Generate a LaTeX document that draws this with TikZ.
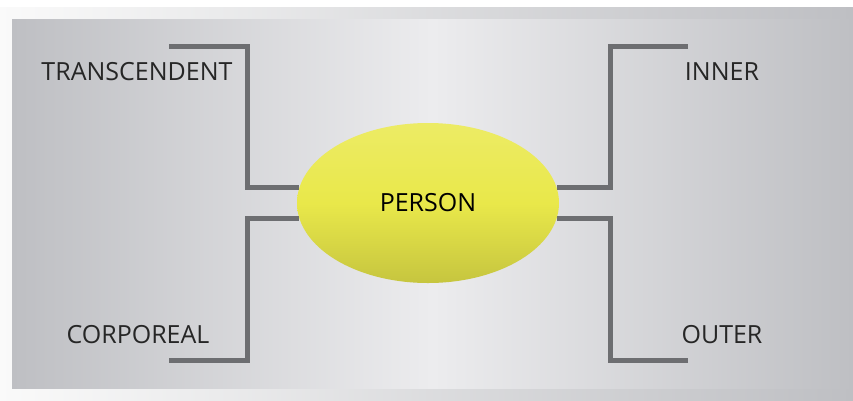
\documentclass[tikz,border=0pt]{standalone}
\usepackage{fontspec}
\setmainfont{Open Sans}
\usetikzlibrary{shapes.geometric}
\definecolor{bracketgray}{RGB}{109,110,113}
\definecolor{panelgray}{RGB}{190,191,195}
\definecolor{panellight}{RGB}{236,236,238}
\definecolor{personyellow}{RGB}{233,232,74}
\tikzset{
  label/.style={text=black!85,font=\fontsize{25}{30}\selectfont,inner sep=0pt},
  bracket/.style={draw=bracketgray,line width=5pt}
}
\begin{document}
\begin{tikzpicture}[x=1pt,y=-1pt]
			% panel
			\useasboundingbox (0,0) rectangle (853,400);
			\fill[white] (0,0) rectangle (853,400);
			\shade[left color=white!96!gray,right color=panelgray] (0,7) rectangle (853,400);
			\shade[left color=panelgray,right color=panelgray,middle color=panellight] (12,19) rectangle (853,388);
			
			\node[ellipse,minimum width=262pt,minimum height=160pt,inner sep=0pt,
			  top color=personyellow!85!white,bottom color=personyellow!85!black,middle color=personyellow,
			  font=\fontsize{25}{30}\selectfont] (Person) at (428,203) {PERSON};
			
			\node[label] (Transcendent) at (137,72) {TRANSCENDENT};
			\node[label] (Corporeal) at (138,335) {CORPOREAL};
			\node[label] (Inner) at (722,72) {INNER};
			\node[label] (Outer) at (722,335) {OUTER};
			
			\coordinate (TranscendentEnd) at (169,46);
			\coordinate (TranscendentCorner) at (247,46);
			\coordinate (CorporealEnd) at (169,360);
			\coordinate (CorporealCorner) at (247,360);
			\coordinate (InnerEnd) at (688,46);
			\coordinate (InnerCorner) at (610,46);
			\coordinate (OuterEnd) at (688,360);
			\coordinate (OuterCorner) at (610,360);
			
			\draw[bracket] (TranscendentEnd) -- (TranscendentCorner) |- (Person.173);
			\draw[bracket] (CorporealEnd) -- (CorporealCorner) |- (Person.187);
			\draw[bracket] (InnerEnd) -- (InnerCorner) |- (Person.7);
			\draw[bracket] (OuterEnd) -- (OuterCorner) |- (Person.-7);
			
\end{tikzpicture}
\end{document}
